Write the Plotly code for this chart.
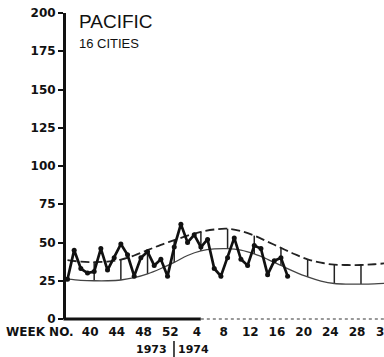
import plotly.graph_objects as go

# ---------------- data ----------------
# x index: 0 = week 36 of 1973, 16 = week 52 of 1973, 17 = week 1 of 1974 ...
week_label_idx = [4, 8, 12, 16, 20, 24, 28, 32, 36, 40, 44]
week_labels = ["40", "44", "48", "52", "4", "8", "12", "16", "20", "24", "28"]

y_ticks = [0, 25, 50, 75, 100, 125, 150, 175, 200]

obs_idx = list(range(34))
obs_values = [26, 45, 33, 30, 31, 46, 32, 40, 49, 42, 28, 40, 44, 35, 39, 28, 47,
              62, 50, 55, 47, 52, 33, 28, 40, 53, 39, 35, 48, 46, 29, 38, 40, 28]

curve_idx = list(range(0, 50, 2))
upper_values = [38.5, 37.5, 37.2, 37.5, 38.8, 41.5, 45, 48.5, 51.5, 54.5, 57, 58.5, 59,
                57.5, 54.5, 50.5, 46.5, 42.5, 39, 36.8, 35.5, 35.3, 35.3, 35.8, 36.5]
lower_values = [26, 25.3, 25, 25, 25.5, 27, 29.5, 33, 37, 41.5, 44.5, 45.8, 46,
                45, 42.5, 39, 35, 31, 27.5, 24.8, 23.2, 22.8, 22.8, 23, 23.5]

bar_idx = [4, 8, 12, 16, 20, 24, 28, 32, 36, 40, 44]

title_text = "PACIFIC"
subtitle_text = "16 CITIES"

# ---------------- figure ----------------
XR = [-0.225, 47.45]
fig = go.Figure()

bx, by = [], []
for b in bar_idx:
    i = curve_idx.index(b)
    bx += [b, b, None]
    by += [lower_values[i], upper_values[i], None]

fig.add_trace(go.Scatter(x=bx, y=by, mode="lines",
                         line=dict(color="#222", width=1.5), hoverinfo="skip"))
fig.add_trace(go.Scatter(x=curve_idx, y=lower_values, mode="lines",
                         line=dict(color="#444", width=1.3, shape="spline", smoothing=1.0)))
fig.add_trace(go.Scatter(x=curve_idx, y=upper_values, mode="lines",
                         line=dict(color="#222", width=1.8, shape="spline", smoothing=1.0,
                                   dash="9px,4px")))
fig.add_trace(go.Scatter(x=obs_idx, y=obs_values, mode="lines+markers",
                         line=dict(color="#111", width=2.7),
                         marker=dict(color="#111", size=5)))

bold = dict(family="DejaVu Sans", size=12, color="#111", weight="bold")

fig.update_layout(
    width=384, height=357,
    margin=dict(l=66, r=0, t=13, b=38),
    paper_bgcolor="white", plot_bgcolor="white",
    showlegend=False,
    xaxis=dict(range=XR, tickmode="array", tickvals=week_label_idx, ticktext=week_labels,
               ticks="", showline=False, showgrid=False, zeroline=False,
               tickfont=bold, ticklabelshift=-4, ticklabelstandoff=4),
    xaxis2=dict(range=XR, overlaying="x", anchor="y", side="bottom",
                tickmode="array", tickvals=[4, 8, 12, 16, 20], ticks="inside",
                ticklen=7, tickwidth=1.5, tickcolor="#111", showticklabels=False,
                showline=False, showgrid=False, zeroline=False,
                minor=dict(tickmode="array", tickvals=list(range(1, 20)), ticks="inside",
                           ticklen=4, tickwidth=1.3, tickcolor="#111")),
    xaxis3=dict(range=XR, overlaying="x", anchor="y", side="bottom",
                tickmode="array", tickvals=[24, 28, 32, 36, 40, 44], ticks="inside",
                ticklen=9, tickwidth=1.5, tickcolor="#888", showticklabels=False,
                showline=False, showgrid=False, zeroline=False,
                minor=dict(tickmode="array", tickvals=list(range(21, 48)), ticks="inside",
                           ticklen=3, tickwidth=1.5, tickcolor="#aaa")),
    yaxis=dict(range=[0, 200], tickmode="array", tickvals=y_ticks,
               ticks="outside", ticklen=5, tickwidth=1.5, tickcolor="#111",
               showline=True, linewidth=3, linecolor="#111",
               showgrid=False, zeroline=False, tickfont=bold),
)

# x axis baseline: solid for 1973, dotted grey in 1974
fig.add_shape(type="line", xref="paper", yref="paper", x0=-0.008, x1=0.424, y0=0, y1=0,
              line=dict(color="#111", width=3))
fig.add_shape(type="line", xref="paper", yref="paper", x0=0.424, x1=1.0, y0=0, y1=0,
              line=dict(color="#999", width=2, dash="dot"))
# year separator
fig.add_shape(type="line", xref="paper", yref="paper", x0=0.3396, x1=0.3396,
              y0=-0.072, y1=-0.124, line=dict(color="#111", width=1.5))

fig.add_annotation(text=title_text, xref="paper", yref="paper", x=0.0346, y=0.972,
                   xanchor="left", yanchor="middle", showarrow=False,
                   font=dict(family="Liberation Sans", size=19, color="#111"))
fig.add_annotation(text=subtitle_text, xref="paper", yref="paper", x=0.0346, y=0.900,
                   xanchor="left", yanchor="middle", showarrow=False,
                   font=dict(family="Liberation Sans", size=13, color="#111"))
fig.add_annotation(text="WEEK NO.", xref="paper", yref="paper", x=-0.0818, y=-0.0425,
                   xanchor="center", yanchor="middle", showarrow=False, font=bold)
fig.add_annotation(text="1973", xref="paper", yref="paper", x=0.270, y=-0.101,
                   xanchor="center", yanchor="middle", showarrow=False,
                   font=dict(family="DejaVu Sans", size=11, color="#111", weight="bold"))
fig.add_annotation(text="1974", xref="paper", yref="paper", x=0.4025, y=-0.101,
                   xanchor="center", yanchor="middle", showarrow=False,
                   font=dict(family="DejaVu Sans", size=11, color="#111", weight="bold"))
fig.add_annotation(text="32", xref="paper", yref="paper", x=1.0, y=-0.0425,
                   xanchor="center", yanchor="middle", showarrow=False, font=bold)

fig.write_html("out.html",
               config={"displayModeBar": False},
               post_script="document.body.style.margin='0px';"
                           "document.documentElement.style.overflow='hidden';")
